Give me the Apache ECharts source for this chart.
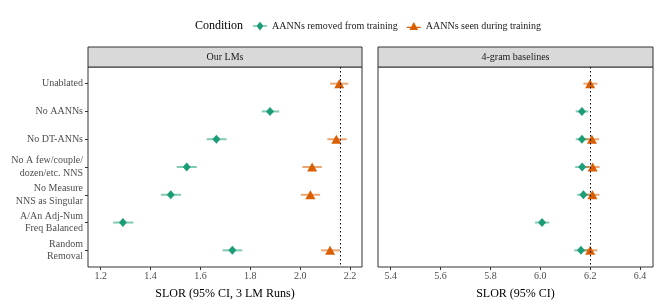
<!DOCTYPE html>
<html><head><meta charset="utf-8">
<script src="https://cdn.jsdelivr.net/npm/echarts@6/dist/echarts.min.js"></script>
<style>html,body{margin:0;padding:0;background:#fff}#c{width:664px;height:308px}</style>
</head><body><div id="c"></div>
<script>
const categories = ['Unablated','No AANNs','No DT-ANNs','No A few/couple/\ndozen/etc. NNS','No Measure\nNNS as Singular','A/An Adj-Num\nFreq Balanced','Random\nRemoval'];
const conditions = ['AANNs removed from training','AANNs seen during training'];
const panels = ['Our LMs','4-gram baselines'];
const axisTitles = ['SLOR (95% CI, 3 LM Runs)','SLOR (95% CI)'];
const lmTicks = [1.2,1.4,1.6,1.8,2.0,2.2];
const ngramTicks = [5.4,5.6,5.8,6.0,6.2,6.4];

// Our LMs
const lmRemovedMean = [null,1.879,1.664,1.545,1.481,1.289,1.728];
const lmRemovedLow  = [null,1.846,1.625,1.505,1.442,1.250,1.689];
const lmRemovedHigh = [null,1.916,1.705,1.585,1.522,1.331,1.768];
const lmSeenMean = [2.157,null,2.145,2.048,2.041,null,2.120];
const lmSeenLow  = [2.120,null,2.109,2.009,2.003,null,2.084];
const lmSeenHigh = [2.193,null,2.187,2.087,2.080,null,2.160];
// 4-gram baselines
const ngRemovedMean = [null,6.167,6.167,6.168,6.173,6.007,6.163];
const ngRemovedLow  = [null,6.142,6.142,6.140,6.148,5.979,6.136];
const ngRemovedHigh = [null,6.193,6.193,6.195,6.198,6.036,6.193];
const ngSeenMean = [6.200,null,6.207,6.210,6.209,null,6.200];
const ngSeenLow  = [6.173,null,6.180,6.183,6.182,null,6.173];
const ngSeenHigh = [6.229,null,6.236,6.238,6.237,null,6.229];

const GREEN = '#1b9e77', ORANGE = '#d95f02';
const FONT = 'Liberation Serif';

function pts(mean){ const o=[]; mean.forEach((v,i)=>{ if(v!==null) o.push([v,i]); }); return o; }
function bars(lo,hi){ const o=[]; lo.forEach((v,i)=>{ if(v!==null) o.push([v,hi[i],i]); }); return o; }
function errSeries(name,lo,hi,color,idx){
  return {type:'custom', name:name+' CI', xAxisIndex:idx, yAxisIndex:idx, z:2, silent:true,
    data:bars(lo,hi), encode:{x:[0,1], y:2},
    renderItem:function(params,api){
      const s=api.coord([api.value(0),api.value(2)]);
      const e=api.coord([api.value(1),api.value(2)]);
      return {type:'line', shape:{x1:s[0],y1:s[1],x2:e[0],y2:e[1]}, style:{stroke:color,lineWidth:2,opacity:0.55}};
    }};
}
function ptSeries(name,mean,color,symbol,size,idx,ref){
  const s={type:'scatter', name:name, xAxisIndex:idx, yAxisIndex:idx, z:3, data:pts(mean),
    symbol:symbol, symbolSize:size, itemStyle:{color:color, opacity:1}};
  if(ref!==undefined){
    s.markLine={silent:true, symbol:'none', label:{show:false},
      lineStyle:{type:[1.5,2.5], color:'#000', width:1}, data:[{xAxis:ref}], animation:false};
  }
  return s;
}
const yCustom = categories.map((c,i)=>i);
function yAxis(idx,showLabels){
  return {type:'value', gridIndex:idx, inverse:true, min:-0.6, max:6.6,
    splitLine:{show:false}, axisLine:{show:false, onZero:false},
    axisTick:{show:showLabels, customValues:yCustom, length:3, lineStyle:{color:'#333'}},
    axisLabel:{show:showLabels, customValues:yCustom, margin:5, fontFamily:FONT, fontSize:10, color:'#4d4d4d', lineHeight:12.5,
      formatter:function(v){ return categories[Math.round(v)]; }}};
}
function xAxis(idx,min,max,ticks,title){
  return {type:'value', gridIndex:idx, position:'bottom', min:min, max:max, splitLine:{show:false},
    axisLine:{show:false, onZero:false},
    axisTick:{show:true, customValues:ticks, length:3, lineStyle:{color:'#333'}},
    axisLabel:{customValues:ticks, margin:4, fontFamily:FONT, fontSize:10, color:'#4d4d4d', formatter:v=>v.toFixed(1)},
    name:title, nameLocation:'middle', nameGap:21, nameTextStyle:{fontFamily:FONT, fontSize:12, color:'#000'}};
}
const diamondIcon='path://M5,0 L9,5 L5,10 L1,5 Z M-3,4.3 L13,4.3 L13,5.7 L-3,5.7 Z';
const triIcon='path://M5,0 L10,9 L0,9 Z M-3,5.3 L13,5.3 L13,6.7 L-3,6.7 Z';

const option = {
  animation:false,
  backgroundColor:'#fff',
  grid:[
    {left:88, top:67, width:274, height:200, show:true, borderColor:'#333', borderWidth:1, backgroundColor:'#fff'},
    {left:378, top:67, width:275, height:200, show:true, borderColor:'#333', borderWidth:1, backgroundColor:'#fff'}
  ],
  xAxis:[ xAxis(0,1.149,2.248,lmTicks,axisTitles[0]), xAxis(1,5.349,6.452,ngramTicks,axisTitles[1]) ],
  yAxis:[ yAxis(0,true), yAxis(1,false) ],
  legend:{left:248, top:16, itemGap:9, itemWidth:14, itemHeight:9, selectedMode:false,
    textStyle:{fontFamily:FONT, fontSize:10, color:'#1a1a1a'},
    data:[{name:conditions[0], icon:diamondIcon, itemStyle:{color:GREEN}}, {name:conditions[1], icon:triIcon, itemStyle:{color:ORANGE}}]},
  graphic:[
    {type:'text', left:195, top:20, style:{text:'Condition', fontFamily:FONT, fontSize:12, fill:'#000'}},
    {type:'rect', shape:{x:88, y:47, width:274, height:20}, style:{fill:'#d9d9d9', stroke:'#333', lineWidth:1}},
    {type:'text', x:225, y:57, style:{text:panels[0], fontFamily:FONT, fontSize:10, fill:'#1a1a1a', align:'center', verticalAlign:'middle'}},
    {type:'rect', shape:{x:378, y:47, width:275, height:20}, style:{fill:'#d9d9d9', stroke:'#333', lineWidth:1}},
    {type:'text', x:515.5, y:57, style:{text:panels[1], fontFamily:FONT, fontSize:10, fill:'#1a1a1a', align:'center', verticalAlign:'middle'}}
  ],
  series:[
    errSeries(conditions[0],lmRemovedLow,lmRemovedHigh,GREEN,0),
    errSeries(conditions[1],lmSeenLow,lmSeenHigh,ORANGE,0),
    ptSeries(conditions[0],lmRemovedMean,GREEN,'diamond',[8,9],0),
    ptSeries(conditions[1],lmSeenMean,ORANGE,'triangle',[10,9],0,lmSeenMean[0]),
    errSeries(conditions[0],ngRemovedLow,ngRemovedHigh,GREEN,1),
    errSeries(conditions[1],ngSeenLow,ngSeenHigh,ORANGE,1),
    ptSeries(conditions[0],ngRemovedMean,GREEN,'diamond',[8,9],1),
    ptSeries(conditions[1],ngSeenMean,ORANGE,'triangle',[10,9],1,ngSeenMean[0])
  ]
};
echarts.init(document.getElementById('c'),null,{renderer:'canvas'}).setOption(option);
</script></body></html>
